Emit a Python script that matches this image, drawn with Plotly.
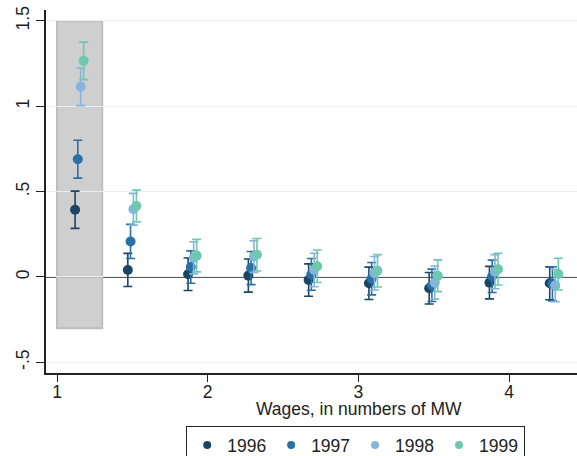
import plotly.graph_objects as go

# Wage bins (in numbers of MW) and per-year horizontal offsets
bins = [1.15, 1.5, 1.9, 2.3, 2.7, 3.1, 3.5, 3.9, 4.3]
years = ["1996", "1997", "1998", "1999"]
year_offset = [-0.03, -0.012, 0.007, 0.027]

est_1996 = [0.394, 0.041, 0.016, 0.008, -0.018, -0.037, -0.066, -0.033, -0.037]
est_1997 = [0.690, 0.208, 0.058, 0.052, 0.015, -0.010, -0.049, 0.004, -0.040]
est_1998 = [1.114, 0.397, 0.112, 0.120, 0.041, 0.022, -0.033, 0.031, -0.050]
est_1999 = [1.266, 0.416, 0.125, 0.130, 0.063, 0.036, 0.007, 0.046, 0.017]

ci_1996 = [0.109, 0.097, 0.095, 0.097, 0.095, 0.095, 0.092, 0.095, 0.096]
ci_1997 = [0.111, 0.100, 0.095, 0.097, 0.093, 0.095, 0.095, 0.095, 0.100]
ci_1998 = [0.110, 0.093, 0.094, 0.093, 0.098, 0.098, 0.097, 0.100, 0.095]
ci_1999 = [0.110, 0.093, 0.095, 0.095, 0.095, 0.095, 0.093, 0.093, 0.093]

estimates = [est_1996, est_1997, est_1998, est_1999]
cis = [ci_1996, ci_1997, ci_1998, ci_1999]
colors = ["#1b4565", "#2870a6", "#85b4dc", "#6dc8ae"]

y_ticks = [-0.5, 0, 0.5, 1, 1.5]
y_tick_labels = ["-.5", "0", ".5", "1", "1.5"]
x_ticks = [1, 2, 3, 4]

FONT = "Liberation Sans, Arial, sans-serif"
FS = 17.5

fig = go.Figure()
for yr, off, est, ci, col in zip(years, year_offset, estimates, cis, colors):
    fig.add_trace(go.Scatter(
        x=[b + off for b in bins], y=est, mode="markers", name=yr,
        marker=dict(color=col, size=10), showlegend=False,
        error_y=dict(type="data", array=ci, visible=True, color=col,
                     thickness=1.6, width=4.5),
    ))
# legend entries (smaller symbols, as in the reference legend)
for yr, col in zip(years, colors):
    fig.add_trace(go.Scatter(x=[None], y=[None], mode="markers", name=yr,
                             marker=dict(color=col, size=8), showlegend=True))

# zero line then highlighted first bin
fig.add_shape(type="line", xref="paper", x0=0, x1=1, yref="y", y0=0, y1=0,
              line=dict(color="#222222", width=1.6), layer="below")
fig.add_shape(type="rect", xref="x", yref="y", x0=1.0, x1=1.3, y0=-0.3, y1=1.5,
              fillcolor="rgba(200,200,200,0.88)", line=dict(color="#bdbdbd", width=2),
              layer="below")

fig.add_annotation(text="Wages, in numbers of MW", xref="paper", yref="paper",
                   x=(358.5 - 46) / 531, y=(373 - 409) / 363, xanchor="center", yanchor="middle",
                   showarrow=False, font=dict(family=FONT, size=FS, color="#222222"))

fig.update_layout(
    width=577, height=456,
    margin=dict(l=46, r=0, t=10, b=83, autoexpand=False),
    paper_bgcolor="white", plot_bgcolor="white",
    font=dict(family=FONT, size=FS, color="#222222"),
    showlegend=True,
    legend=dict(orientation="h", xref="container", yref="container",
                x=186 / 577, y=1 - 426 / 456, xanchor="left", yanchor="top",
                bordercolor="#222222", borderwidth=1.2,
                font=dict(family=FONT, size=FS, color="#222222"),
                itemwidth=30, tracegroupgap=0),
    xaxis=dict(range=[0.927, 4.451], tickvals=x_ticks, ticks="outside", ticklen=7,
               tickwidth=1.4, tickcolor="#222222", showgrid=False, zeroline=False,
               showline=True, linecolor="#222222", linewidth=1.6, automargin=False,
               ticklabelstandoff=-5,
               tickfont=dict(family=FONT, size=FS)),
    yaxis=dict(range=[-0.5625, 1.564], tickvals=y_ticks, ticktext=y_tick_labels,
               tickangle=-90, ticks="outside", ticklen=8, tickwidth=1.4,
               tickcolor="#222222", showgrid=True, gridcolor="#e8f0f1", gridwidth=1,
               zeroline=False, showline=True, linecolor="#222222", linewidth=1.6,
               automargin=False, tickfont=dict(family=FONT, size=FS)),
)

fig.write_html("out.html", config={"displayModeBar": False},
               post_script="document.body.style.margin='0px';document.body.style.overflow='hidden';")
